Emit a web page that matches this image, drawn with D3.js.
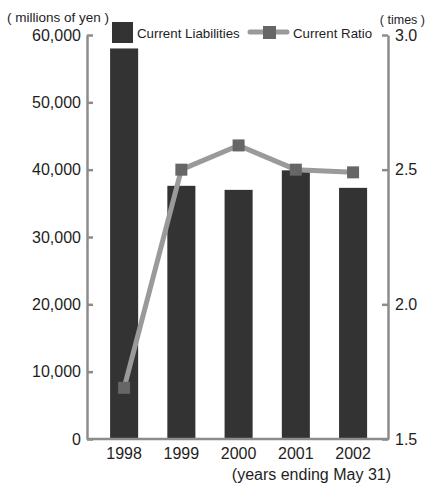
<!DOCTYPE html>
<html>
<head>
<meta charset="utf-8">
<script src="https://cdn.jsdelivr.net/npm/d3@7"></script>
<style>
  html, body { margin: 0; padding: 0; background: #fff; }
  svg { display: block; font-family: "Liberation Sans", Arial, sans-serif; }
</style>
</head>
<body>
<svg id="chart" width="428" height="483"></svg>
<script>
// Fiscal years (ending May 31)
const years = ["1998", "1999", "2000", "2001", "2002"];
// Current liabilities, millions of yen
const liabilities = [58000, 37600, 37000, 39900, 37300];
// Current ratio, times
const currentRatio = [1.69, 2.50, 2.59, 2.50, 2.49];
// Axis ticks
const leftTicks = [0, 10000, 20000, 30000, 40000, 50000, 60000];
const rightTicks = [1.5, 2.0, 2.5, 3.0];

const svg = d3.select("#chart");
const axisColor = "#8c8c8c";
const textColor = "#1e1e1e";
const plotLeft = 87, plotRight = 388, plotTop = 35, plotBottom = 439;

const x = d3.scaleBand().domain(years).range([95.5, 381.7]).paddingInner(0.51).paddingOuter(0.255);
const yL = d3.scaleLinear().domain([0, 60000]).range([plotBottom, plotTop]);
const yR = d3.scaleLinear().domain([1.5, 3.0]).range([plotBottom, plotTop]);

// Bars
svg.append("g").selectAll("rect").data(years).join("rect")
  .attr("x", d => x(d))
  .attr("width", x.bandwidth())
  .attr("y", (d, i) => yL(liabilities[i]))
  .attr("height", (d, i) => plotBottom - yL(liabilities[i]))
  .attr("fill", "#333333");

// Left axis
const gl = svg.append("g").attr("transform", `translate(${plotLeft},0)`)
  .call(d3.axisLeft(yL).tickValues(leftTicks).tickSizeInner(-6).tickSizeOuter(0).tickPadding(12)
    .tickFormat(d3.format(",")));
gl.select(".domain").attr("stroke", axisColor).attr("stroke-width", 2.5);
gl.selectAll(".tick line").attr("stroke", axisColor).attr("stroke-width", 2.5);
gl.selectAll(".tick text").attr("fill", textColor).attr("font-size", 16).attr("dx", 6)
  .attr("font-family", "'Liberation Sans', Arial, sans-serif");

// Right axis
const gr = svg.append("g").attr("transform", `translate(${plotRight},0)`)
  .call(d3.axisRight(yR).tickValues(rightTicks).tickSizeInner(-6).tickSizeOuter(0).tickPadding(13)
    .tickFormat(d3.format(".1f")));
gr.select(".domain").attr("stroke", axisColor).attr("stroke-width", 2.5);
gr.selectAll(".tick line").attr("stroke", axisColor).attr("stroke-width", 2.5);
gr.selectAll(".tick text").attr("fill", textColor).attr("font-size", 16).attr("dx", -6)
  .attr("font-family", "'Liberation Sans', Arial, sans-serif");

// Bottom baseline
svg.append("line").attr("x1", plotLeft).attr("x2", plotRight + 1).attr("y1", plotBottom).attr("y2", plotBottom)
  .attr("stroke", axisColor).attr("stroke-width", 2.5);

// Year labels
svg.append("g").selectAll("text").data(years).join("text")
  .attr("x", d => x(d) + x.bandwidth() / 2)
  .attr("y", 459)
  .attr("text-anchor", "middle")
  .attr("font-size", 16)
  .attr("fill", textColor)
  .text(d => d);

svg.append("text").attr("x", 391).attr("y", 480).attr("text-anchor", "end")
  .attr("font-size", 16).attr("fill", textColor).text("(years ending May 31)");

// Current ratio line
const cx = d => x(d) + x.bandwidth() / 2;
const line = d3.line().x((d, i) => cx(years[i])).y(d => yR(d));
svg.append("path").datum(currentRatio).attr("d", line)
  .attr("fill", "none").attr("stroke", "#9a9a9a").attr("stroke-width", 5);
const ms = 12;
svg.append("g").selectAll("rect").data(currentRatio).join("rect")
  .attr("x", (d, i) => cx(years[i]) - ms / 2)
  .attr("y", d => yR(d) - ms / 2)
  .attr("width", ms).attr("height", ms)
  .attr("fill", "#666666");

// Unit labels
svg.append("text").attr("x", 7).attr("y", 22).attr("font-size", 13.5).attr("fill", textColor)
  .text("( millions of yen )");
svg.append("text").attr("x", 425).attr("y", 24).attr("text-anchor", "end").attr("font-size", 12.5)
  .attr("fill", textColor).text("( times )");

// Legend
const lg = svg.append("g");
lg.append("rect").attr("x", 112).attr("y", 22).attr("width", 21).attr("height", 21).attr("fill", "#333333");
lg.append("text").attr("x", 137).attr("y", 37.5).attr("font-size", 13.3).attr("fill", textColor).text("Current Liabilities");
lg.append("line").attr("x1", 250).attr("x2", 287).attr("y1", 32).attr("y2", 32)
  .attr("stroke", "#9a9a9a").attr("stroke-width", 5).attr("stroke-linecap", "round");
lg.append("rect").attr("x", 263).attr("y", 26).attr("width", 13).attr("height", 13).attr("fill", "#666666");
lg.append("text").attr("x", 293).attr("y", 37.5).attr("font-size", 13.3).attr("fill", textColor).text("Current Ratio");
</script>
</body>
</html>
